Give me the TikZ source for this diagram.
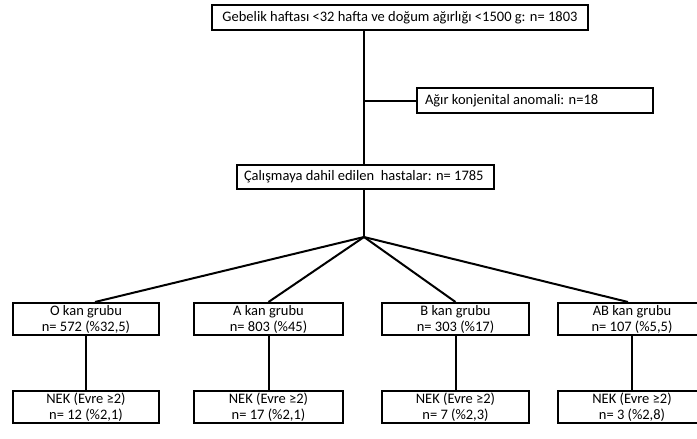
\documentclass[tikz,border=0pt]{standalone}
\usepackage{fontspec}
\setmainfont{Carlito}
\begin{document}
\begin{tikzpicture}[x=1pt,y=-1pt,
  box/.style={draw=black,line width=2pt,inner sep=0pt,minimum height=25pt,font=\fontsize{14.5}{17}\selectfont},
  grp/.style={box,minimum height=32pt,align=center,font=\fontsize{14.5}{16}\selectfont},
  conn/.style={line width=2pt}]
\useasboundingbox (0,0) rectangle (697,439);
\node[box,minimum width=376pt] (top) at (400,17.5) {Gebelik haftası <32 hafta ve doğum ağırlığı <1500 g: n= 1803};
\node[box,minimum width=236pt] (agir) at (535,100.5) {\makebox[220pt][l]{Ağır konjenital anomali: n=18}};
\node[box,minimum width=257pt,minimum height=24pt] (cal) at (365.5,177) {\makebox[243pt][l]{Çalışmaya dahil edilen\ \ hastalar: n= 1785}};
\node[grp,minimum width=146pt] (o) at (86,319) {O kan grubu\\n= 572 (\%32,5)};
\node[grp,minimum width=149pt] (a) at (268.5,319) {A kan grubu\\n= 803 (\%45)};
\node[grp,minimum width=147pt] (b) at (455.5,319) {B kan grubu\\n= 303 (\%17)};
\node[grp,minimum width=148pt] (ab) at (632,319) {AB kan grubu\\n= 107 (\%5,5)};
\node[grp,minimum width=146pt] (no) at (86,407) {NEK (Evre ≥2)\\n= 12 (\%2,1)};
\node[grp,minimum width=149pt] (na) at (268.5,407) {NEK (Evre ≥2)\\n= 17 (\%2,1)};
\node[grp,minimum width=147pt] (nb) at (455.5,407) {NEK (Evre ≥2)\\n= 7 (\%2,3)};
\node[grp,minimum width=148pt] (nab) at (632,407) {NEK (Evre ≥2)\\n= 3 (\%2,8)};
\coordinate (tr) at (364,0);
\coordinate (br) at (364,237);
\draw[conn] (top.south -| tr) -- (cal.north -| tr);
\draw[conn] (agir.west -| tr) -- (agir.west);
\draw[conn] (cal.south -| tr) -- (br);
\draw[conn] (br) -- ([xshift=9pt]o.north);
\draw[conn] (br) -- (a.north);
\draw[conn] (br) -- (b.north);
\draw[conn] (br) -- ([xshift=-4pt]ab.north);
\draw[conn] (o) -- (no);
\draw[conn] (a) -- (na);
\draw[conn] (b) -- (nb);
\draw[conn] (ab) -- (nab);
\end{tikzpicture}
\end{document}
